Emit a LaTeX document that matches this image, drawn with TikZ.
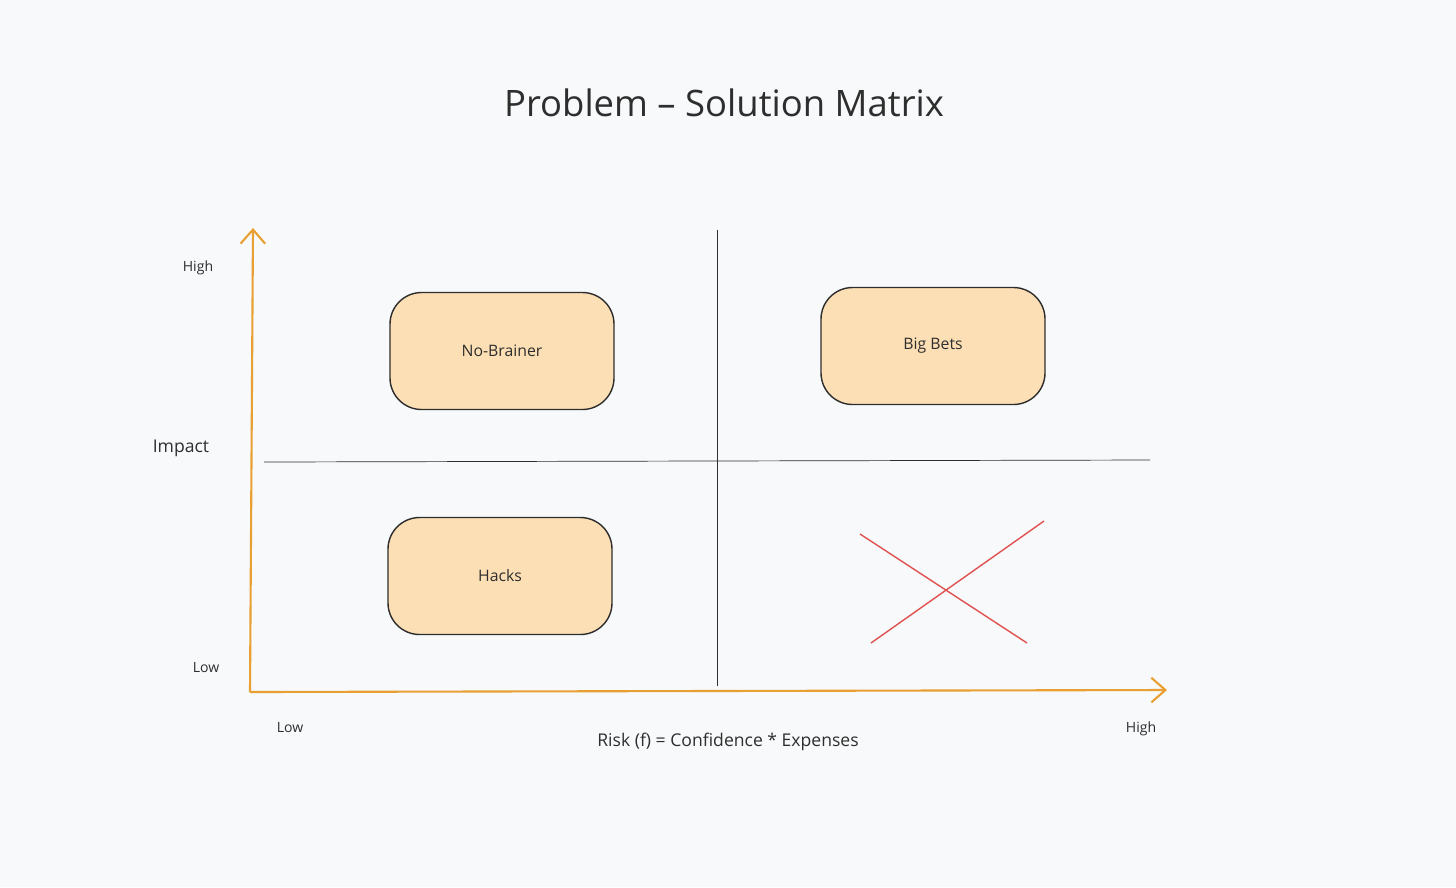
\documentclass[tikz,border=0pt]{standalone}
\usepackage{fontspec}
\setmainfont{Open Sans}
\usepackage{tikz}
\usetikzlibrary{arrows.meta}
\definecolor{bgcol}{HTML}{F8F9FA}
\definecolor{axiscol}{HTML}{E8A033}
\definecolor{boxcol}{HTML}{FDDFB5}
\definecolor{crosscol}{HTML}{E05252}
\definecolor{inkcol}{HTML}{2E2E2E}
\tikzset{
  quadbox/.style={draw=inkcol, thick, fill=boxcol, rounded corners=18pt, minimum width=224*0.02cm, minimum height=117*0.02cm, font=\small, text=inkcol},
  axislabel/.style={font=\small, text=inkcol},
}
\begin{document}
\begin{tikzpicture}[x=0.02cm, y=-0.02cm]
		\fill[bgcol] (0,0) rectangle (1456,887);
		\useasboundingbox (0,0) rectangle (1456,887);
		\node[font=\huge, text=inkcol] (title) at (724,103) {Problem -- Solution Matrix};
%
		\coordinate (origin) at (250,692);
		\coordinate (ytip) at (253,228);
		\coordinate (xtip) at (1167,690);
		\draw [axiscol, very thick, -{Straight Barb[length=8pt, width=14pt]}] (origin) -- (ytip);
		\draw [axiscol, very thick, -{Straight Barb[length=8pt, width=14pt]}] (origin) -- (xtip);
		\coordinate (vtop) at (717,230);
		\coordinate (vbot) at (717,686);
		\coordinate (hleft) at (264,462);
		\coordinate (hright) at (1150,460);
		\draw [inkcol] (vtop) -- (vbot);
		\draw [inkcol] (hleft) -- (hright);
%
		\node[quadbox] (nobrainer) at (502,351) {No-Brainer};
		\node[quadbox] (bigbets) at (933,346) {Big Bets};
		\node[quadbox] (hacks) at (500,576) {Hacks};
%
		\coordinate (xa) at (860,534);
		\coordinate (xb) at (1027,643);
		\coordinate (xc) at (1044,521);
		\coordinate (xd) at (871,643);
		\draw [crosscol, thick] (xa) -- (xb);
		\draw [crosscol, thick] (xc) -- (xd);
%
		\node[axislabel, font=\footnotesize] (yhigh) at (198,268) {High};
		\node[axislabel, font=\normalsize] (ylabel) at (181,448) {Impact};
		\node[axislabel, font=\footnotesize] (ylow) at (206,668) {Low};
		\node[axislabel, font=\footnotesize] (xlow) at (290,728) {Low};
		\node[axislabel, font=\footnotesize] (xhigh) at (1141,729) {High};
		\node[axislabel, font=\normalsize] (xlabel) at (728,742) {Risk (f) = Confidence * Expenses};
		\end{tikzpicture}
\end{document}
